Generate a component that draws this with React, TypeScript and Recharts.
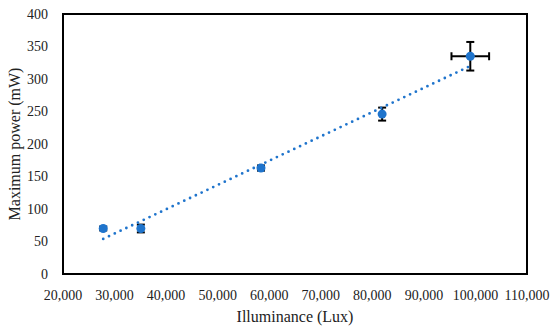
import { ScatterChart, Scatter, XAxis, YAxis, ErrorBar, ReferenceArea } from 'recharts';

// measured points (illuminance in lux, max power in mW)
const illuminance = [27800, 35100, 58400, 81900, 99000];
const maxPower = [70, 70, 163, 246, 335];
const powerError = [3, 6, 4, 10, 22];
const luxError = [0, 0, 0, 0, 3650];

// linear trendline endpoints as drawn
const trendLux = [27800, 99000];
const trendPower = [54, 320];

const xTicks = [20000, 30000, 40000, 50000, 60000, 70000, 80000, 90000, 100000, 110000];
const yTicks = [0, 50, 100, 150, 200, 250, 300, 350, 400];

const points = illuminance.map((x, i) => ({
  x,
  y: maxPower[i],
  ey: powerError[i],
  ex: luxError[i],
}));

const trend = trendLux.map((x, i) => ({ x, y: trendPower[i] }));

const blue = '#1f74cc';
const font = '"Liberation Serif", "Times New Roman", serif';

export default function App() {
  return (
    <div style={{ position: 'absolute', left: 0, top: 0, background: '#fff' }}>
      <ScatterChart
        width={550}
        height={333}
        margin={{ top: 14, right: 23, bottom: 0, left: 0 }}
      >
        <XAxis
          type="number"
          dataKey="x"
          domain={[20000, 110000]}
          ticks={xTicks}
          tickFormatter={(v: number) => v.toLocaleString('en-US')}
          axisLine={false}
          tickLine={false}
          tickSize={0}
          tickMargin={16}
          height={59}
          tick={{ fill: '#222', fontSize: 14, fontFamily: font }}
          label={{
            value: 'Illuminance (Lux)',
            position: 'insideBottom',
            offset: 11,
            style: { fill: '#222', fontSize: 16, fontFamily: font },
          }}
        />
        <YAxis
          type="number"
          dataKey="y"
          domain={[0, 400]}
          ticks={yTicks}
          axisLine={false}
          tickLine={false}
          tickSize={0}
          tickMargin={15}
          width={63}
          tick={{ fill: '#222', fontSize: 14, fontFamily: font }}
          label={{
            value: 'Maximum power (mW)',
            angle: -90,
            position: 'insideLeft',
            offset: 14,
            style: { fill: '#222', fontSize: 16, fontFamily: font, textAnchor: 'middle' },
          }}
        />
        <ReferenceArea
          x1={20000}
          x2={110000}
          y1={0}
          y2={400}
          fill="none"
          stroke="#000"
          strokeWidth={2}
          ifOverflow="visible"
        />
        <Scatter
          data={trend}
          isAnimationActive={false}
          line={{
            stroke: blue,
            strokeWidth: 2.8,
            strokeDasharray: '0 6.4',
            strokeLinecap: 'round',
          }}
          shape={() => <g />}
        />
        <Scatter
          data={points}
          isAnimationActive={false}
          fill={blue}
          shape={(p: any) => <circle cx={p.cx} cy={p.cy} r={4.5} fill={blue} />}
        >
          <ErrorBar dataKey="ey" direction="y" width={4} stroke="#000" strokeWidth={2} />
          <ErrorBar dataKey="ex" direction="x" width={4} stroke="#000" strokeWidth={2} />
        </Scatter>
      </ScatterChart>
    </div>
  );
}
